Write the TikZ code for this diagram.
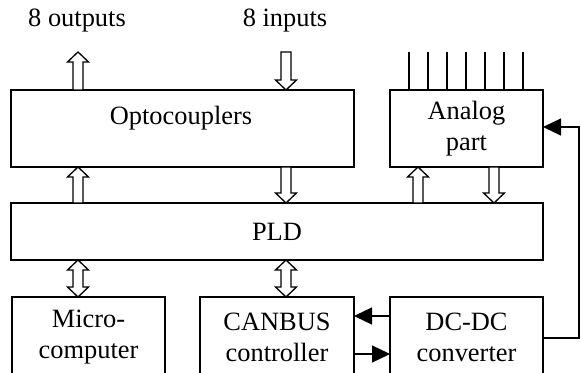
\documentclass[tikz,border=0pt]{standalone}
\usepackage{fontspec}
\setmainfont{Liberation Serif}
\usetikzlibrary{calc, arrows.meta}

% wide hollow arrows, from #1 to #2 (vertical)
\newcommand{\widearrow}[2]{%
	\draw[fill=white] let \p1=(#1), \p2=(#2), \n1={5*sign(\y2-\y1)} in
		(\x1-2.5pt,\y1) -- ({\x1-2.5pt},{\y2-\n1*1pt}) -- ({\x1-5.25pt},{\y2-\n1*1pt}) -- (\x1,\y2)
		-- ({\x1+5.25pt},{\y2-\n1*1pt}) -- ({\x1+2.5pt},{\y2-\n1*1pt}) -- (\x1+2.5pt,\y1) -- cycle;}
\newcommand{\widebiarrow}[2]{%
	\draw[fill=white] let \p1=(#1), \p2=(#2), \n1={5*sign(\y2-\y1)} in
		(\x1,\y1) -- ({\x1+5.25pt},{\y1+\n1*1pt}) -- ({\x1+2.5pt},{\y1+\n1*1pt}) -- ({\x1+2.5pt},{\y2-\n1*1pt})
		-- ({\x1+5.25pt},{\y2-\n1*1pt}) -- (\x1,\y2) -- ({\x1-5.25pt},{\y2-\n1*1pt}) -- ({\x1-2.5pt},{\y2-\n1*1pt})
		-- ({\x1-2.5pt},{\y1+\n1*1pt}) -- ({\x1-5.25pt},{\y1+\n1*1pt}) -- cycle;}

\begin{document}
\begin{tikzpicture}[x=0.5pt, y=-0.5pt, >={Triangle[length=9pt, width=8.5pt]}, line width=0.65pt, font=\fontsize{13.2}{15.5}\selectfont]
	\tikzstyle{box} = [draw=black, rectangle, inner sep=0pt, outer sep=0pt, align=center, minimum height=38.5pt]
	\tikzstyle{invis} = [draw=none, inner sep=0pt, align=center]

	\useasboundingbox (0,0) rectangle (581,373);
	\clip (0,0) rectangle (581,373);

	% boxes
	\node[box, minimum width=171.5pt]				at (182.5,128.5)	(opto)		{};
	\node[invis]									at (181,118)		(optolbl)	{Optocouplers};
	\node[box, minimum width=76.5pt]				at (466.5,128.5)	(analog)	{Analog\\part};
	\node[box, minimum width=266pt, minimum height=28.5pt]	at (277,231.5)	(pld)		{PLD};
	\node[box, minimum width=76.5pt, minimum height=40pt]	at (88.5,337)	(micro)		{Micro-\\computer};
	\node[box, minimum width=77pt, minimum height=40pt]	at (277,337)		(canbus)	{CANBUS\\controller};
	\node[box, minimum width=76.5pt, minimum height=40pt]	at (466.5,337)	(dcdc)		{DC-DC\\converter};

	\node[invis]									at (77,21)			(lblout)	{8 outputs};
	\node[invis]									at (285,21)			(lblin)		{8 inputs};

	\coordinate (outtop) at (78,52);
	\coordinate (intop)  at (286,52);
	\coordinate (aup)    at (418,0);
	\coordinate (adown)  at (494,0);

	% wide arrows
	\widearrow{opto.north -| outtop}{outtop}
	\widearrow{intop}{intop |- opto.north}
	\widearrow{pld.north -| outtop}{outtop |- opto.south}
	\widearrow{intop |- opto.south}{intop |- pld.north}
	\widearrow{pld.north -| aup}{aup |- analog.south}
	\widearrow{adown |- analog.south}{adown |- pld.north}
	\widebiarrow{pld.south -| outtop}{outtop |- micro.north}
	\widebiarrow{pld.south -| intop}{intop |- canbus.north}

	% analog inputs
	\foreach \i in {0,...,6} {
		\coordinate (pin\i) at (409+19*\i,52);
		\draw (pin\i) -- (pin\i |- analog.north);
	}

	% supply lines
	\path[->]
	([yshift=10.5pt]dcdc.west)		edge	([yshift=10.5pt]canbus.east)
	([yshift=-8.5pt]canbus.east)	edge	([yshift=-8.5pt]dcdc.west);
	\draw[->] ([yshift=-0.5pt]dcdc.east) -- ++(36,0) |- ([yshift=0.75pt]analog.east);
\end{tikzpicture}
\end{document}
